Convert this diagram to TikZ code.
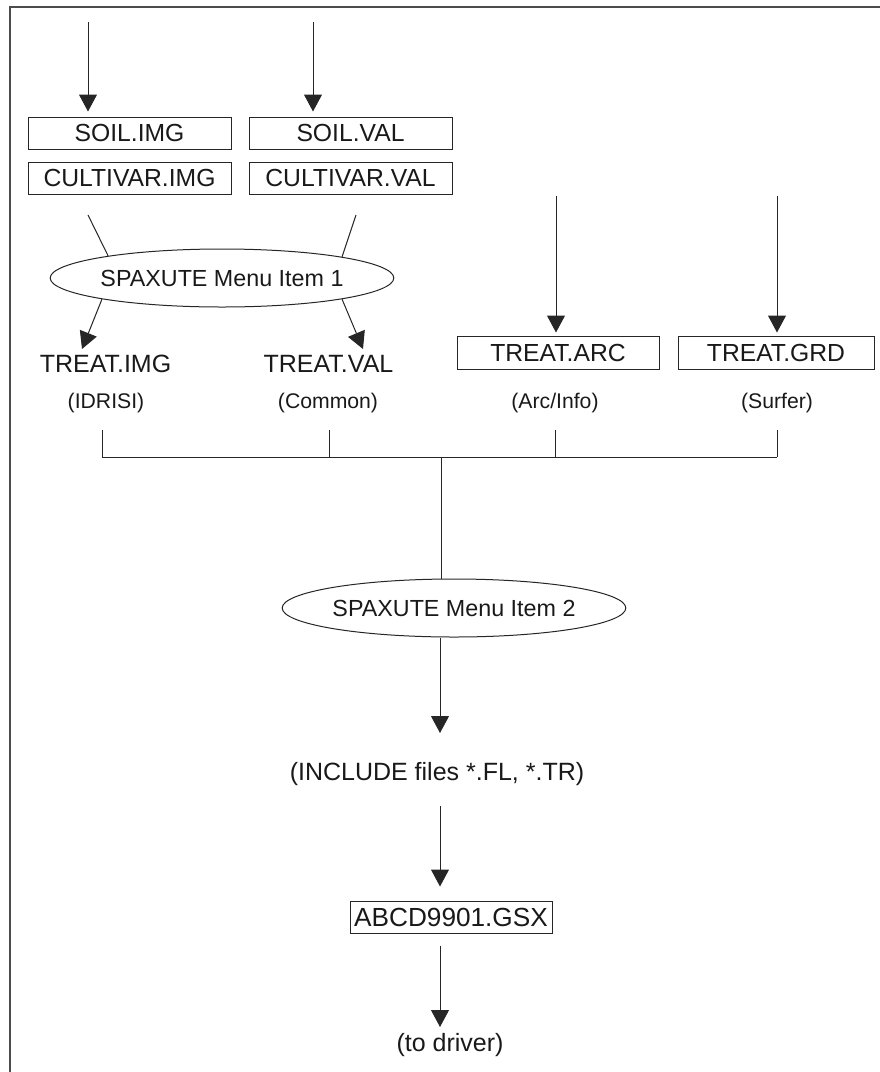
\documentclass[tikz,border=0pt]{standalone}
\usepackage{fontspec}
\setmainfont{Liberation Sans}
\usetikzlibrary{arrows.meta,shapes.geometric}
\begin{document}
\begin{tikzpicture}[x=1pt,y=-1pt,
  ink/.style={draw=black!85, line width=1pt},
  flow/.style={ink, -{Triangle[width=18pt,length=17pt]}},
  filebox/.style={draw=black!85, line width=1pt, inner sep=0pt,
    minimum height=32pt, font=\fontsize{24.7}{28}\selectfont, text=black!90},
  menu/.style={ellipse, draw=black!85, line width=1pt, inner sep=0pt,
    minimum width=285pt, minimum height=58pt,
    font=\fontsize{23.3}{28}\selectfont, text=black!90},
  bigtext/.style={inner sep=0pt, font=\fontsize{25}{30}\selectfont, text=black!90},
  smalltext/.style={inner sep=0pt, font=\fontsize{21.2}{26}\selectfont, text=black!90}]
\useasboundingbox (0,0) rectangle (880,1072);

% frame edges
\draw[draw=black!70, line width=2pt] (10,1072) -- (10,7) -- (880,7);

% input files
\node[filebox, minimum width=203pt] (soilimg) at (129.5,133) {SOIL.IMG};
\node[filebox, minimum width=203pt] (cultimg) at (129.5,178) {CULTIVAR.IMG};
\node[filebox, minimum width=203pt] (soilval) at (350.5,133) {SOIL.VAL};
\node[filebox, minimum width=203pt] (cultval) at (350.5,178) {CULTIVAR.VAL};

\coordinate (inA) at (88,22);
\coordinate (inB) at (313,22);
\draw[flow, shorten >=5pt] (inA) -- (inA |- soilimg.north);
\draw[flow, shorten >=5pt] (inB) -- (inB |- soilval.north);

% first menu step
\node[menu] (menuA) at (222,278) {SPAXUTE Menu Item 1};
\coordinate (fromimg) at (88,215);
\coordinate (fromval) at (356,215);
\draw[ink] (fromimg) -- (menuA.169.5);
\draw[ink] (fromval) -- (menuA.10.5);

\node[bigtext] (treatimg) at (105.5,363.5) {TREAT.IMG};
\node[bigtext] (treatval) at (328.5,363.5) {TREAT.VAL};
\coordinate (tipimg) at (82,349);
\coordinate (tipval) at (363,349);
\draw[flow] (menuA.190.5) -- (tipimg);
\draw[flow] (menuA.-10.5) -- (tipval);

% external formats
\node[filebox, minimum width=202pt, minimum height=33pt] (treatarc) at (558,352.5) {TREAT.ARC};
\node[filebox, minimum width=196pt, minimum height=33pt] (treatgrd) at (776,352.5) {TREAT.GRD};
\coordinate (inC) at (556,196);
\coordinate (inD) at (777,196);
\draw[flow, shorten >=3pt] (inC) -- (inC |- treatarc.north);
\draw[flow, shorten >=3pt] (inD) -- (inD |- treatgrd.north);

% format labels
\node[smalltext] (lidrisi) at (106,403) {(IDRISI)};
\node[smalltext] (lcommon) at (328,403) {(Common)};
\node[smalltext] (larc) at (555,403) {(Arc/Info)};
\node[smalltext] (lsurfer) at (777,403) {(Surfer)};

% collecting bus
\coordinate (b1) at (102,457);
\coordinate (b2) at (329,457);
\coordinate (b3) at (555,457);
\coordinate (b4) at (777,457);
\coordinate (bmid) at (441,457);
\draw[ink] (b1 |- 0,430) -- (b1);
\draw[ink] (b2 |- 0,430) -- (b2);
\draw[ink] (b3 |- 0,430) -- (b3);
\draw[ink] (b4 |- 0,430) -- (b4);
\draw[ink] (b1) -- (b4);

% second menu step
\node[menu, minimum width=284pt] (menuB) at (454,608) {SPAXUTE Menu Item 2};
\draw[ink] (bmid) -- (bmid |- menuB.north);

\node[bigtext] (include) at (437,774) {(INCLUDE files *.FL, *.TR)};
\coordinate (tipinc) at (440,733);
\draw[flow] (tipinc |- menuB.south) -- (tipinc);

\node[filebox, minimum width=202pt, inner sep=0pt, font=\fontsize{26.2}{30}\selectfont] (gsx) at (451,917) {ABCD9901.GSX};
\coordinate (fromdrv) at (440,806);
\draw[flow, shorten >=14pt] (fromdrv) -- (fromdrv |- gsx.north);

\node[bigtext] (driver) at (450,1045) {(to driver)};
\coordinate (tipdrv) at (440,1027);
\draw[flow] (tipdrv |- gsx.south) ++(0,12) -- (tipdrv);
\end{tikzpicture}
\end{document}
